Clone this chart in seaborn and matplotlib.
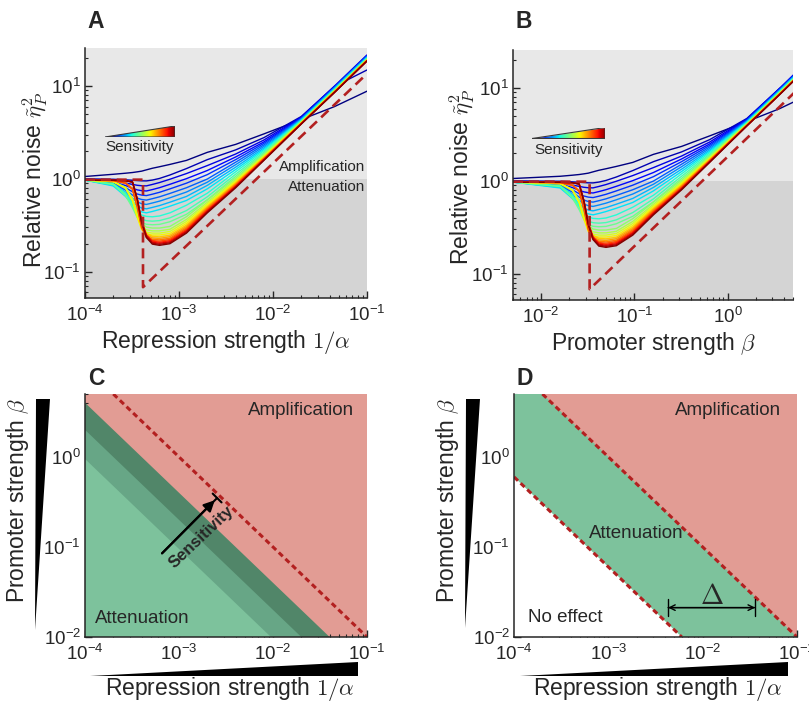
import numpy as np
import pandas as pd
import matplotlib
matplotlib.use("Agg")
import matplotlib.pyplot as plt
import seaborn as sns
from matplotlib.patches import Polygon
from matplotlib.ticker import LogLocator, NullFormatter
from matplotlib.patches import ArrowStyle

# ---------------------------------------------------------------- data
# repression strength 1/alpha (panel A) and promoter strength beta (panel B)
repression_grid = [1.0e-4, 2.0e-4, 2.7e-4, 3.2e-4, 3.6e-4, 4.0e-4, 4.5e-4, 5.2e-4, 6.2e-4,
                   8.0e-4, 1.2e-3, 2.0e-3, 4.0e-3, 8.0e-3, 2.0e-2, 4.5e-2, 1.0e-1]
promoter_grid = [0.005, 0.016, 0.0216, 0.0256, 0.0288, 0.032, 0.036, 0.0416, 0.0496,
                 0.064, 0.096, 0.16, 0.32, 0.64, 1.6, 3.6, 8.0]

# relative noise, one row per sensitivity level (low -> high)
noise_rows = [
    [1.06, 1.12, 1.15, 1.17, 1.19, 1.21, 1.25, 1.3, 1.35, 1.43, 1.58, 1.93, 2.35, 3.05, 4.35, 6.0, 8.8],
    [1.0, 0.99, 0.975, 0.965, 0.958, 0.952, 0.95, 0.97, 1.01, 1.1, 1.29, 1.61, 2.05, 2.78, 4.7, 9.9, 14.9],
    [0.97, 0.945, 0.903, 0.871, 0.852, 0.843, 0.84, 0.87, 0.912, 0.99, 1.14, 1.39, 1.85, 2.62, 4.633, 9.967, 21.63],
    [0.97, 0.924, 0.847, 0.792, 0.760, 0.746, 0.74, 0.766, 0.803, 0.873, 1.005, 1.23, 1.72, 2.5, 4.565, 9.832, 21.35],
    [0.97, 0.905, 0.800, 0.727, 0.686, 0.668, 0.66, 0.683, 0.716, 0.779, 0.898, 1.11, 1.61, 2.41, 4.504, 9.711, 21.1],
    [0.97, 0.887, 0.757, 0.668, 0.620, 0.599, 0.59, 0.611, 0.64, 0.696, 0.802, 0.995, 1.51, 2.32, 4.446, 9.594, 20.86],
    [0.97, 0.870, 0.717, 0.617, 0.563, 0.540, 0.53, 0.549, 0.575, 0.625, 0.721, 0.92, 1.42, 2.235, 4.391, 9.483, 20.63],
    [0.97, 0.853, 0.679, 0.568, 0.510, 0.485, 0.475, 0.492, 0.515, 0.56, 0.646, 0.85, 1.335, 2.15, 4.334, 9.371, 20.4],
    [0.97, 0.838, 0.646, 0.527, 0.466, 0.441, 0.43, 0.445, 0.467, 0.507, 0.585, 0.78, 1.26, 2.08, 4.285, 9.272, 20.2],
    [0.97, 0.886, 0.705, 0.551, 0.451, 0.408, 0.394, 0.39, 0.398, 0.43, 0.52, 0.70, 1.19, 2.01, 4.236, 9.175, 20.0],
    [0.97, 0.876, 0.679, 0.516, 0.412, 0.368, 0.354, 0.35, 0.355, 0.38, 0.455, 0.64, 1.12, 1.938, 4.183, 9.07, 19.78],
    [0.97, 0.868, 0.658, 0.488, 0.382, 0.338, 0.324, 0.32, 0.323, 0.345, 0.415, 0.595, 1.063, 1.879, 4.139, 8.98, 19.6],
    [0.97, 0.936, 0.811, 0.617, 0.432, 0.332, 0.302, 0.295, 0.295, 0.307, 0.391, 0.59, 1.017, 1.829, 4.101, 8.904, 19.44],
    [0.97, 0.934, 0.803, 0.601, 0.412, 0.312, 0.282, 0.275, 0.275, 0.286, 0.365, 0.56, 0.978, 1.785, 4.067, 8.837, 19.3],
    [0.97, 0.932, 0.796, 0.588, 0.396, 0.297, 0.267, 0.26, 0.26, 0.271, 0.347, 0.538, 0.948, 1.752, 4.041, 8.783, 19.19],
    [0.97, 0.931, 0.791, 0.578, 0.384, 0.284, 0.255, 0.248, 0.248, 0.258, 0.331, 0.52, 0.923, 1.723, 4.018, 8.738, 19.09],
    [0.97, 0.956, 0.904, 0.785, 0.514, 0.323, 0.258, 0.24, 0.237, 0.247, 0.317, 0.503, 0.9, 1.697, 3.997, 8.696, 19.01],
    [0.97, 0.956, 0.902, 0.781, 0.506, 0.314, 0.249, 0.231, 0.228, 0.238, 0.306, 0.49, 0.881, 1.676, 3.98, 8.66, 18.93],
    [0.97, 0.956, 0.901, 0.776, 0.498, 0.305, 0.240, 0.223, 0.22, 0.229, 0.296, 0.477, 0.863, 1.655, 3.962, 8.626, 18.86],
    [0.97, 0.955, 0.899, 0.773, 0.490, 0.297, 0.233, 0.216, 0.213, 0.222, 0.287, 0.466, 0.848, 1.637, 3.948, 8.596, 18.8],
    [0.965, 0.965, 0.955, 0.926, 0.610, 0.356, 0.249, 0.214, 0.207, 0.216, 0.279, 0.456, 0.834, 1.621, 3.934, 8.569, 18.74],
    [0.965, 0.965, 0.955, 0.925, 0.606, 0.350, 0.244, 0.208, 0.202, 0.21, 0.273, 0.448, 0.823, 1.608, 3.923, 8.547, 18.7],
    [0.965, 0.965, 0.955, 0.925, 0.601, 0.344, 0.239, 0.203, 0.197, 0.205, 0.266, 0.439, 0.812, 1.594, 3.912, 8.524, 18.65],
    [0.965, 0.965, 0.954, 0.924, 0.597, 0.338, 0.233, 0.198, 0.192, 0.2, 0.26, 0.43, 0.8, 1.58, 3.9, 8.5, 18.6],
]

# infinitely sensitive limit (dashed)
limit_repression = [1.0e-4, 4.14e-4, 4.14e-4, 1.0e-1]
limit_promoter = [0.005, 0.0331, 0.0331, 8.0]
limit_noise = [0.98, 0.98, 0.068, 13.6]

# phase diagram boundaries, (1/alpha, beta) end points
c_light_edge = ([1e-4, 9.5e-3], [0.95, 0.01])
c_mid_edge = ([1e-4, 2.0e-2], [2.0, 0.01])
c_dark_edge = ([1e-4, 4.0e-2], [4.0, 0.01])
upper_edge = ([2e-4, 1e-1], [5.0, 0.01])
d_lower_edge = ([1e-4, 6.0e-3], [0.6, 0.01])
delta_span = ([4.3e-3, 3.6e-2], [0.0212, 0.0212])
sens_arrow = ([6.6e-4, 2.4e-3], [0.085, 0.33])

# ---------------------------------------------------------------- style
sns.set_style("ticks")
plt.rcParams.update({
    "font.family": ["Liberation Sans", "DejaVu Sans"],
    "mathtext.fontset": "cm",
    "axes.linewidth": 1.1,
    "xtick.direction": "in",
    "ytick.direction": "in",
    "xtick.major.size": 5,
    "ytick.major.size": 5,
    "xtick.minor.size": 2.5,
    "ytick.minor.size": 2.5,
    "xtick.major.width": 1.0,
    "ytick.major.width": 1.0,
    "xtick.minor.width": 0.8,
    "ytick.minor.width": 0.8,
    "xtick.labelsize": 13.5,
    "ytick.labelsize": 13.5,
    "axes.labelsize": 16.5,
})

W, H = 809, 704
fig = plt.figure(figsize=(W / 100, H / 100), dpi=100)


def px_axes(left, top, right, bottom):
    return fig.add_axes([left / W, 1 - bottom / H, (right - left) / W, (bottom - top) / H])


axA = px_axes(85, 48, 367, 298)
axB = px_axes(513, 50, 793, 300)
axC = px_axes(85, 394, 367, 637)
axD = px_axes(514, 394, 797, 637)

LIGHT = "#e8e8e8"
DARK = "#d4d4d4"
DASH_RED = "#b32020"
RED_ZONE = "#e29c94"
GREEN_L = "#7dc29c"
GREEN_M = "#67a686"
GREEN_D = "#518669"
JET = matplotlib.colormaps["jet"]

n_levels = len(noise_rows)


def noise_frame(grid):
    return pd.DataFrame({
        "strength": np.tile(grid, n_levels),
        "noise": np.ravel(noise_rows),
        "sensitivity": np.repeat(np.arange(n_levels), len(grid)),
    })


def sensitivity_wedge(ax, rect):
    wax = ax.inset_axes(rect)
    grad = np.linspace(0, 1, 256)[None, :]
    im = wax.imshow(grad, cmap=JET, aspect="auto", extent=(0, 1, 0, 1))
    tri = Polygon([(0, 0), (1, 0), (1, 1)], closed=True, transform=wax.transData,
                  facecolor="none", edgecolor="#3a3a3a", lw=0.8)
    wax.add_patch(tri)
    im.set_clip_path(tri)
    wax.set_xlim(0, 1)
    wax.set_ylim(0, 1)
    wax.set_axis_off()


def noise_panel(ax, grid, limit_x, xlim, label, wedge_rect, text_xy):
    ax.set_xscale("log")
    ax.set_yscale("log")
    ax.axhspan(1.0, 30, color=LIGHT, zorder=0, lw=0)
    ax.axhspan(0.01, 1.0, color=DARK, zorder=0, lw=0)
    sns.lineplot(data=noise_frame(grid), x="strength", y="noise", hue="sensitivity",
                 units="sensitivity", estimator=None, sort=False, palette=JET,
                 hue_norm=(0, n_levels - 1), legend=False, lw=1.0, ax=ax)
    sns.lineplot(x=limit_x, y=limit_noise, sort=False, estimator=None, color=DASH_RED,
                 lw=1.9, linestyle=(0, (3.8, 2.2)), ax=ax)
    ax.set_xlim(*xlim)
    ax.set_ylim(0.052, 25.7)
    ax.set_xlabel(label)
    ax.set_ylabel(r"Relative noise $\tilde{\eta}_{P}^{2}$")
    sensitivity_wedge(ax, wedge_rect)
    ax.text(text_xy[0], text_xy[1], "Sensitivity", transform=ax.transAxes,
            ha="center", va="center", fontsize=11)


noise_panel(axA, repression_grid, limit_repression, (1e-4, 1e-1),
            r"Repression strength $1/\alpha$", [0.071, 0.644, 0.248, 0.044], (0.195, 0.604))
noise_panel(axB, promoter_grid, limit_promoter, (0.005, 5.0),
            r"Promoter strength $\beta$", [0.068, 0.646, 0.261, 0.044], (0.2, 0.6))

axA.text(0.993, 0.524, "Amplification", transform=axA.transAxes, ha="right", va="center", fontsize=11)
axA.text(0.993, 0.444, "Attenuation", transform=axA.transAxes, ha="right", va="center", fontsize=11)

axA.xaxis.set_label_coords(0.5, -0.12)
axA.yaxis.set_label_coords(-0.124, 0.472)
axB.xaxis.set_label_coords(0.5, -0.12)
axB.yaxis.set_label_coords(-0.129, 0.494)

# ---------------------------------------------------------------- phase diagrams
for ax in (axC, axD):
    ax.set_xscale("log")
    ax.set_yscale("log")
    ax.set_facecolor(RED_ZONE)
    ax.set_xlim(1e-4, 1e-1)
    ax.set_ylim(1e-2, 5.0)
    ax.set_xlabel(r"Repression strength $1/\alpha$")
    ax.set_ylabel(r"Promoter strength $\beta$")


def corner_fill(ax, edge, color):
    xs = [1e-4] + list(edge[0])
    ys = [1e-2] + list(edge[1])
    ax.fill(xs, ys, color=color, lw=0, zorder=1)


corner_fill(axC, c_dark_edge, GREEN_D)
corner_fill(axC, c_mid_edge, GREEN_M)
corner_fill(axC, c_light_edge, GREEN_L)
sns.lineplot(x=upper_edge[0], y=upper_edge[1], sort=False, estimator=None, color=DASH_RED,
             lw=2.2, linestyle=(0, (1.8, 1.2)), ax=axC, zorder=3)

axD.fill([1e-4, 1e-4] + list(upper_edge[0]), [1e-2, upper_edge[1][0]] + list(upper_edge[1]),
         color=GREEN_L, lw=0, zorder=1)
corner_fill(axD, d_lower_edge, "white")
for edge in (upper_edge, d_lower_edge):
    sns.lineplot(x=edge[0], y=edge[1], sort=False, estimator=None, color=DASH_RED,
                 lw=2.2, linestyle=(0, (1.8, 1.2)), ax=axD, zorder=3)

axC.text(0.766, 0.934, "Amplification", transform=axC.transAxes, ha="center", va="center", fontsize=13.5)
axC.text(0.035, 0.078, "Attenuation", transform=axC.transAxes, ha="left", va="center", fontsize=13.5)
axD.text(0.756, 0.934, "Amplification", transform=axD.transAxes, ha="center", va="center", fontsize=13.5)
axD.text(0.431, 0.424, "Attenuation", transform=axD.transAxes, ha="center", va="center", fontsize=13.5)
axD.text(0.18, 0.082, "No effect", transform=axD.transAxes, ha="center", va="center", fontsize=13.5)

# sensitivity arrow in C
axC.annotate("", xy=(sens_arrow[0][1], sens_arrow[1][1]), xytext=(sens_arrow[0][0], sens_arrow[1][0]),
             arrowprops=dict(arrowstyle="-|>", color="black", lw=1.6, mutation_scale=16,
                             shrinkA=0, shrinkB=0), zorder=5)
axC.annotate("", xy=(sens_arrow[0][1] * 1.06, sens_arrow[1][1] * 1.06),
             xytext=(sens_arrow[0][0], sens_arrow[1][0]),
             arrowprops=dict(arrowstyle=ArrowStyle("-[", widthB=0.45, lengthB=0.0), color="black",
                             lw=1.5, shrinkA=0, shrinkB=0), zorder=5)
axC.text(1.72e-3, 0.128, "Sensitivity", rotation=43.5, rotation_mode="anchor", ha="center",
         va="center", fontsize=12, fontweight="bold", zorder=6)

# width of the attenuation band in D
axD.annotate("", xy=(delta_span[0][1], delta_span[1][1]), xytext=(delta_span[0][0], delta_span[1][0]),
             arrowprops=dict(arrowstyle="<->", color="black", lw=1.0, shrinkA=0, shrinkB=0,
                             mutation_scale=10))
axD.annotate("", xy=(delta_span[0][1], delta_span[1][1]), xytext=(delta_span[0][0], delta_span[1][0]),
             arrowprops=dict(arrowstyle="|-|", color="black", lw=1.0, shrinkA=0, shrinkB=0,
                             mutation_scale=6))
axD.text(1.26e-2, 0.0275, r"$\Delta$", ha="center", va="center", fontsize=20)

axC.xaxis.set_label_coords(0.512, -0.156)
axC.yaxis.set_label_coords(-0.191, 0.56)
axD.xaxis.set_label_coords(0.51, -0.156)
axD.yaxis.set_label_coords(-0.187, 0.56)

# ---------------------------------------------------------------- axes cosmetics
for ax in (axA, axB, axC, axD):
    sns.despine(ax=ax)
    ax.xaxis.set_major_locator(LogLocator(base=10, numticks=10))
    ax.yaxis.set_major_locator(LogLocator(base=10, numticks=10))
    ax.xaxis.set_minor_locator(LogLocator(base=10, subs=np.arange(2, 10), numticks=10))
    ax.yaxis.set_minor_locator(LogLocator(base=10, subs=np.arange(2, 10), numticks=10))
    ax.xaxis.set_minor_formatter(NullFormatter())
    ax.yaxis.set_minor_formatter(NullFormatter())
    ax.tick_params(which="both", top=False, right=False)
    ax.tick_params(axis="x", pad=5)
    ax.tick_params(axis="y", pad=3)
    for side in ("left", "bottom"):
        ax.spines[side].set_zorder(10)


# magnitude wedges next to the phase diagram axis labels
def fig_poly(points):
    fig.add_artist(Polygon([(x / W, 1 - y / H) for x, y in points], closed=True,
                           transform=fig.transFigure, facecolor="black", edgecolor="none"))


fig_poly([(36, 399), (50, 399), (35, 630)])
fig_poly([(90, 676), (358, 676), (358, 662)])
fig_poly([(466, 399), (480, 399), (465, 628)])
fig_poly([(520, 676), (788, 676), (788, 662)])

for letter, (x, y) in {"A": (96, 22), "B": (524, 22), "C": (96, 378), "D": (525, 378)}.items():
    fig.text(x / W, 1 - y / H, letter, fontsize=16.5, fontweight="bold", ha="center", va="center")

fig.savefig("out.png", dpi=100)
